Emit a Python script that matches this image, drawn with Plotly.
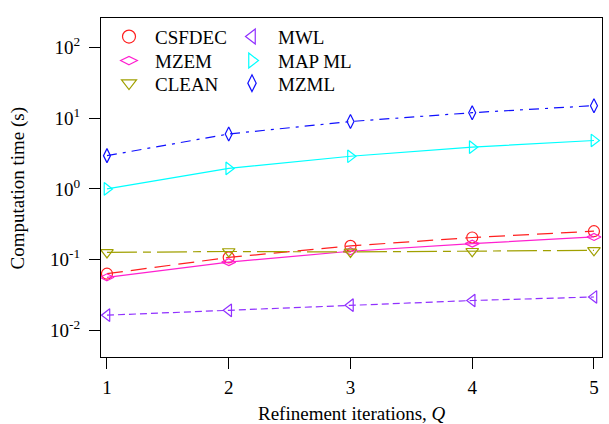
import plotly.graph_objects as go

Q = [1, 2, 3, 4, 5]
csfdec = [0.063, 0.107, 0.156, 0.205, 0.252]
mzem = [0.056, 0.092, 0.131, 0.168, 0.209]
clean = [0.126, 0.130, 0.128, 0.131, 0.135]
mwl = [0.0163, 0.0191, 0.0226, 0.0263, 0.0295]
mapml = [1.0, 1.95, 2.9, 3.9, 4.85]
mzml = [2.96, 6.0, 9.0, 12.0, 15.1]

ytickvals = [0.01, 0.1, 1, 10, 100]
yticktext = ["10<sup>-2</sup>", "10<sup>-1</sup>", "10<sup>0</sup>", "10<sup>1</sup>", "10<sup>2</sup>"]

# name, values, colour, symbol, dash, marker size, legend id
series = [
    ("CSFDEC", csfdec, "#ff2020", "circle-open", "16px,8px", 11, "legend"),
    ("MZEM", mzem, "#ff20d0", "diamond-wide-open", "solid", 10, "legend2"),
    ("CLEAN", clean, "#a0a000", "triangle-down-open", "30px,6px,8px,6px", 11, "legend3"),
    ("MWL", mwl, "#9030ff", "triangle-left-open", "7px,4px", 11, "legend4"),
    ("MAP ML", mapml, "#00ffff", "triangle-right-open", "solid", 11, "legend5"),
    ("MZML", mzml, "#1010ff", "diamond-tall-open", "10px,6px,3px,6px", 10, "legend6"),
]

FONT = "Liberation Serif"
fig = go.Figure()
for name, vals, col, sym, dash, sz, lg in series:
    fig.add_trace(go.Scatter(
        x=Q, y=vals, mode="lines+markers", name=name, showlegend=False,
        line=dict(color=col, width=1.2, dash=dash),
        marker=dict(symbol=sym, size=sz, color=col, line=dict(width=1.2, color=col)),
    ))
for name, vals, col, sym, dash, sz, lg in series:
    fig.add_trace(go.Scatter(
        x=[None], y=[None], mode="markers", name=name, legend=lg,
        marker=dict(symbol=sym, size=sz + 2, color=col, line=dict(width=1.2, color=col)),
    ))

axis_common = dict(
    showline=True, linecolor="black", linewidth=1.2, mirror=True,
    ticks="outside", ticklen=11, tickwidth=1.2, tickcolor="black",
    showgrid=False, zeroline=False,
    tickfont=dict(family=FONT, size=19, color="black"),
)

legend_rows = [0.9448, 0.874, 0.8074]
legend_cols = [0.004, 0.2495]
legends = {}
for i, (name, vals, col, sym, dash, sz, lg) in enumerate(series):
    legends[lg] = dict(x=legend_cols[i // 3], y=legend_rows[i % 3], xanchor="left", yanchor="middle",
                       bgcolor="rgba(0,0,0,0)", itemwidth=42,
                       font=dict(family=FONT, size=19, color="black"))

fig.update_layout(
    width=609, height=424,
    margin=dict(l=101, r=7, t=18, b=67),
    paper_bgcolor="white", plot_bgcolor="white",
    font=dict(family=FONT, size=19, color="black"),
    xaxis=dict(range=[0.951, 5.066], tickvals=Q, ticktext=[str(q) for q in Q],
               ticklabelstandoff=2, **axis_common),
    yaxis=dict(type="log", range=[-2.38, 2.42], tickvals=ytickvals, ticktext=yticktext,
               ticklabelstandoff=5, **axis_common),
    annotations=[
        dict(text="Refinement iterations, <i>Q</i>", xref="paper", yref="paper",
             x=0.5, y=-0.166, xanchor="center", yanchor="middle", showarrow=False,
             font=dict(family=FONT, size=19, color="black")),
        dict(text="Computation time (s)", xref="paper", yref="paper", textangle=-90,
             x=-0.1657, y=0.5, xanchor="center", yanchor="middle", showarrow=False,
             font=dict(family=FONT, size=19, color="black")),
    ],
    **legends,
)

fig.write_html("out.html", config={"displayModeBar": False},
               post_script="document.body.style.margin='0';document.body.style.overflow='hidden';")
